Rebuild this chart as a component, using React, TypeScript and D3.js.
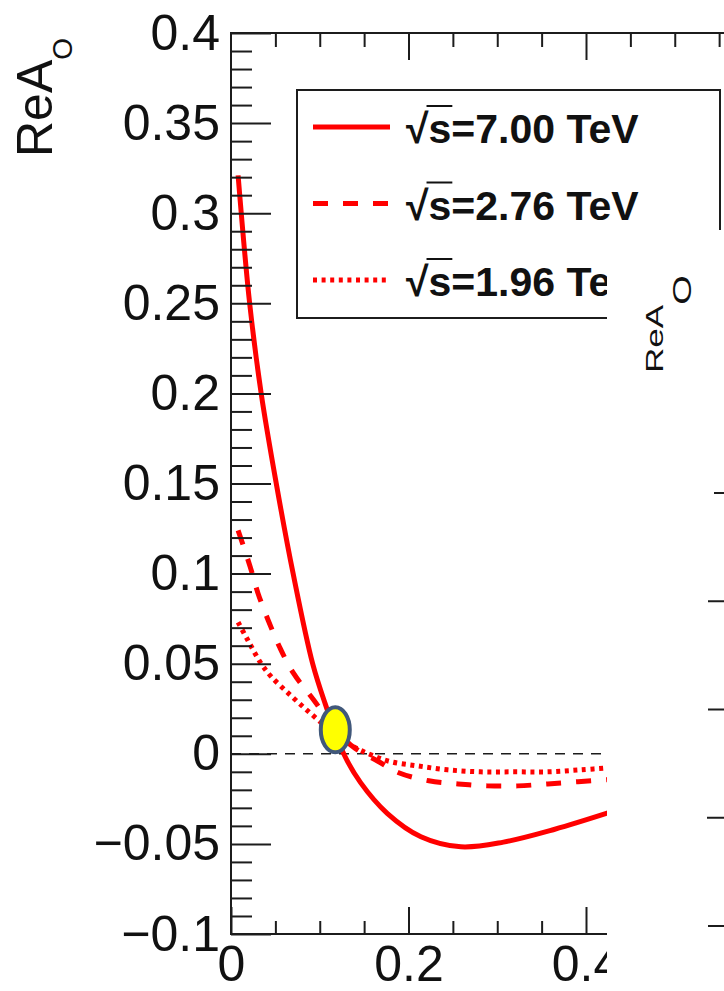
import React, { useEffect, useRef } from "react";
import * as d3 from "d3";

// x = -t (GeV^2), y = Re A_O
const xMajorTicks = [0, 0.2, 0.4];
const xTickLabels = ["0", "0.2", "0.4"];
const xMinorTicks = [0.05, 0.1, 0.15, 0.25, 0.3, 0.35, 0.45, 0.5, 0.55];

const yMajorTicks = [-0.1, -0.05, 0, 0.05, 0.1, 0.15, 0.2, 0.25, 0.3, 0.35, 0.4];
const yTickLabels = ["\u22120.1", "\u22120.05", "0", "0.05", "0.1", "0.15", "0.2", "0.25", "0.3", "0.35", "0.4"];

const energies = ["7.00", "2.76", "1.96"];

// sqrt(s) = 7.00 TeV
const x700 = [0.008, 0.021, 0.034, 0.051, 0.07, 0.092, 0.106, 0.127, 0.146, 0.176, 0.214, 0.259, 0.307, 0.364, 0.43];
const y700 = [0.321, 0.25, 0.2, 0.15, 0.1, 0.05, 0.028, 0, -0.016, -0.033, -0.046, -0.0516, -0.049, -0.042, -0.032];

// sqrt(s) = 2.76 TeV
const x276 = [0.008, 0.0215, 0.0305, 0.042, 0.055, 0.07, 0.093, 0.12, 0.14, 0.165, 0.189, 0.223, 0.256, 0.289, 0.323, 0.357, 0.391, 0.43];
const y276 = [0.124, 0.104, 0.089, 0.074, 0.059, 0.045, 0.03, 0.012, 0.003, -0.004, -0.0105, -0.015, -0.0167, -0.0178, -0.0178, -0.0167, -0.0155, -0.0142];

// sqrt(s) = 1.96 TeV
const x196 = [0.008, 0.019, 0.034, 0.045, 0.067, 0.089, 0.11, 0.138, 0.16, 0.18, 0.21, 0.244, 0.281, 0.319, 0.357, 0.394, 0.43];
const y196 = [0.073, 0.063, 0.05, 0.043, 0.0325, 0.0227, 0.014, 0.004, -0.001, -0.0044, -0.0067, -0.0089, -0.01, -0.01, -0.01, -0.0089, -0.0076];

// highlighted crossing point
const crossX = 0.1175;
const crossY = 0.0133;

// tick marks of the neighbouring (cut off) panel
const sideTicks = [0, 1, 2, 3, 4];
const sideTickLen = [10, 16, 16, 17, 16];

const font = "'Liberation Sans', Arial, Helvetica, sans-serif";
const ink = "#1c1c1c";

export default function App() {
  const svgRef = useRef<SVGSVGElement>(null);

  useEffect(() => {
    const svg = d3.select(svgRef.current);
    svg.selectAll("*").remove();

    const x = d3.scaleLinear().domain([0, 0.4]).range([231, 586]);
    const y = d3.scaleLinear().domain([-0.1, 0.4]).range([934, 33]);

    // zero reference line
    svg
      .append("line")
      .attr("x1", x(0))
      .attr("x2", x(0.45))
      .attr("y1", y(0))
      .attr("y2", y(0))
      .attr("stroke", ink)
      .attr("stroke-width", 1.6)
      .attr("stroke-dasharray", "10,8");

    const line = d3
      .line<[number, number]>()
      .x((d) => x(d[0]))
      .y((d) => y(d[1]))
      .curve(d3.curveCatmullRom.alpha(0.5));

    const series = [
      { xs: x700, ys: y700, dash: null },
      { xs: x276, ys: y276, dash: "15,15" },
      { xs: x196, ys: y196, dash: "4,4.6" },
    ];

    series.forEach((s) => {
      svg
        .append("path")
        .datum(d3.zip(s.xs, s.ys) as [number, number][])
        .attr("d", line)
        .attr("fill", "none")
        .attr("stroke", "#ff0000")
        .attr("stroke-width", 5)
        .attr("stroke-dasharray", s.dash);
    });

    svg
      .append("ellipse")
      .attr("cx", x(crossX))
      .attr("cy", y(crossY))
      .attr("rx", 14.5)
      .attr("ry", 22.5)
      .attr("fill", "#ffff00")
      .attr("stroke", "#41587a")
      .attr("stroke-width", 4);

    // frame
    svg
      .append("path")
      .attr("d", `M724,${y(0.4)}H${x(0)}V${y(-0.1)}H724`)
      .attr("fill", "none")
      .attr("stroke", ink)
      .attr("stroke-width", 2);

    const styleAxis = (g) => {
      g.select(".domain").remove();
      g.selectAll("line").attr("stroke", ink).attr("stroke-width", 2);
      g.selectAll("text")
        .attr("fill", "#111")
        .style("font-family", font)
        .style("font-size", "50px");
    };

    // left axis
    svg
      .append("g")
      .attr("transform", `translate(${x(0)},0)`)
      .call(
        d3
          .axisLeft(y)
          .tickValues(d3.range(-9, 40).filter((v) => v % 5 !== 0).map((v) => v / 100))
          .tickSize(-21)
          .tickFormat(() => "")
      )
      .call(styleAxis);

    svg
      .append("g")
      .attr("transform", `translate(${x(0)},0)`)
      .call(
        d3
          .axisLeft(y)
          .tickValues(yMajorTicks)
          .tickSize(-40)
          .tickPadding(11)
          .tickFormat((d, i) => yTickLabels[i])
      )
      .call(styleAxis);

    // bottom axis
    svg
      .append("g")
      .attr("transform", `translate(0,${y(-0.1)})`)
      .call(d3.axisBottom(x).tickValues(xMinorTicks).tickSize(-13).tickFormat(() => ""))
      .call(styleAxis);

    svg
      .append("g")
      .attr("transform", `translate(0,${y(-0.1)})`)
      .call(
        d3
          .axisBottom(x)
          .tickValues(xMajorTicks)
          .tickSize(-27)
          .tickPadding(11)
          .tickFormat((d, i) => xTickLabels[i])
      )
      .call(styleAxis);

    // top axis
    svg
      .append("g")
      .attr("transform", `translate(0,${y(0.4)})`)
      .call(d3.axisTop(x).tickValues(xMinorTicks).tickSize(-14).tickFormat(() => ""))
      .call(styleAxis);

    svg
      .append("g")
      .attr("transform", `translate(0,${y(0.4)})`)
      .call(d3.axisTop(x).tickValues([0.2, 0.4]).tickSize(-27).tickFormat(() => ""))
      .call(styleAxis);

    // y title
    const title = svg
      .append("text")
      .attr("transform", "translate(52,157) rotate(-90)")
      .style("font-family", font)
      .style("font-size", "50px")
      .attr("fill", "#111");
    title.append("tspan").text("ReA");
    title.append("tspan").attr("dy", 20).style("font-size", "28px").text("O");

    // legend
    svg
      .append("rect")
      .attr("x", 297)
      .attr("y", 90)
      .attr("width", 423)
      .attr("height", 228)
      .attr("fill", "#fff")
      .attr("stroke", ink)
      .attr("stroke-width", 2);

    const rowY = d3.scalePoint().domain(energies).range([127, 280]);

    energies.forEach((e, i) => {
      const ry = rowY(e) as number;
      svg
        .append("line")
        .attr("x1", 313)
        .attr("x2", 390)
        .attr("y1", ry)
        .attr("y2", ry)
        .attr("stroke", "#ff0000")
        .attr("stroke-width", 5)
        .attr("stroke-dasharray", series[i].dash);

      const t = svg
        .append("text")
        .attr("x", 406)
        .attr("y", ry + 16)
        .style("font-family", font)
        .style("font-size", "41px")
        .style("font-weight", "bold")
        .attr("fill", "#111")
        .text(`\u221As=${e} TeV`);

      const node = t.node() as SVGTextElement;
      const wr = node.getSubStringLength(0, 1);
      const ws = node.getSubStringLength(1, 1);
      svg
        .append("line")
        .attr("x1", 406 + wr - 2)
        .attr("x2", 406 + wr + ws + 1)
        .attr("y1", ry - 21)
        .attr("y2", ry - 21)
        .attr("stroke", "#111")
        .attr("stroke-width", 2);
    });

    // neighbouring panel covering the right part
    svg
      .append("rect")
      .attr("x", 607)
      .attr("y", 230)
      .attr("width", 117)
      .attr("height", 761)
      .attr("fill", "#fff");

    const side = d3.scaleLinear().domain([0, 4]).range([493, 926]);
    sideTicks.forEach((v, i) => {
      svg
        .append("line")
        .attr("x1", 724 - sideTickLen[i])
        .attr("x2", 724)
        .attr("y1", side(v))
        .attr("y2", side(v))
        .attr("stroke", ink)
        .attr("stroke-width", 2);
    });

    // title of the neighbouring panel, stretched along the text direction
    const g2 = svg.append("g").attr("transform", "translate(663,373) rotate(-90) scale(1.46,1)");
    const title2 = g2
      .append("text")
      .style("font-family", font)
      .style("font-size", "24px")
      .attr("fill", "#111");
    title2.append("tspan").text("ReA");
    title2.append("tspan").attr("dy", 28).style("font-size", "26px").text("O");
  }, []);

  return (
    <svg
      ref={svgRef}
      width={724}
      height={991}
      style={{ position: "absolute", left: 0, top: 0, background: "#fff" }}
    />
  );
}
